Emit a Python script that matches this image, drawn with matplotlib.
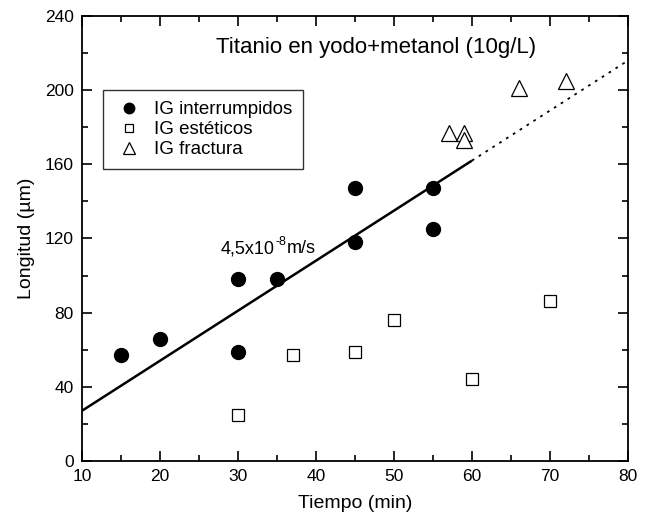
import matplotlib
matplotlib.use("Agg")
import matplotlib.pyplot as plt
import numpy as np
from matplotlib.ticker import MultipleLocator

plt.rcParams['font.family'] = ['Liberation Sans', 'DejaVu Sans']

# Data
interr_x = [15, 20, 30, 30, 35, 45, 45, 55, 55]
interr_y = [57, 66, 98, 59, 98, 147, 118, 147, 125]
estat_x = [30, 37, 45, 50, 60, 70]
estat_y = [25, 57, 59, 76, 44, 86]
fract_x = [57, 59, 59, 66, 72]
fract_y = [177, 177, 173, 201, 205]
fit_intercept = 27.0   # value at x=10
fit_slope = 2.7
fit_solid = [10, 60]
fit_dotted = [60, 80]

fig = plt.figure(figsize=(6.5, 5.19), dpi=100)
ax = fig.add_axes([0.126, 0.112, 0.840, 0.857])

def fit(xs):
    xs = np.array(xs, dtype=float)
    return fit_intercept + fit_slope * (xs - 10)

ax.plot(fit_solid, fit(fit_solid), color='black', lw=1.8, solid_capstyle='butt')
ax.plot(fit_dotted, fit(fit_dotted), color='black', lw=1.3, ls=(0, (1.5, 3)))

ax.plot(interr_x, interr_y, 'o', color='black', ms=10, ls='none', label='IG interrumpidos')
ax.plot(estat_x, estat_y, 's', mfc='white', mec='black', mew=0.9, ms=8.5, ls='none', label='IG estéticos')
ax.plot(fract_x, fract_y, '^', mfc='white', mec='black', mew=0.9, ms=11, ls='none', label='IG fractura')

ax.set_xlim(10, 80)
ax.set_ylim(0, 240)
ax.xaxis.set_major_locator(MultipleLocator(10))
ax.xaxis.set_minor_locator(MultipleLocator(5))
ax.yaxis.set_major_locator(MultipleLocator(40))
ax.yaxis.set_minor_locator(MultipleLocator(20))
ax.tick_params(which='both', direction='in', top=True, right=True, labelsize=12.5, width=1.2)
ax.tick_params(which='major', length=7)
ax.tick_params(which='minor', length=4)
ax.tick_params(axis='x', pad=6)
ax.tick_params(axis='y', pad=6)
for s in ax.spines.values():
    s.set_linewidth(1.3)

ax.set_xlabel('Tiempo (min)', fontsize=14, labelpad=8)
ax.set_ylabel('Longitud (µm)', fontsize=14, labelpad=7)

ax.text(47.7, 223, 'Titanio en yodo+metanol (10g/L)', ha='center', va='center', fontsize=16)

t1 = ax.text(27.8, 112, '4,5x10', ha='left', va='baseline', fontsize=13)
t2 = ax.annotate('-8', xy=(1, 0.55), xycoords=t1, xytext=(0.5, 0), textcoords='offset points',
                 ha='left', va='bottom', fontsize=9)
t3 = ax.annotate('m/s', xy=(1, 0), xycoords=(t2, t1), xytext=(0.5, 0), textcoords='offset points',
                 ha='left', va='bottom', fontsize=13)

leg = ax.legend(loc='upper left', bbox_to_anchor=(0.022, 0.855), fontsize=13.5,
                frameon=True, fancybox=False, edgecolor='black', handlelength=1.5,
                handletextpad=0.6, labelspacing=0.15, borderpad=0.6, markerscale=0.75)
leg.get_frame().set_linewidth(1.0)

fig.savefig('out.png', dpi=100)
